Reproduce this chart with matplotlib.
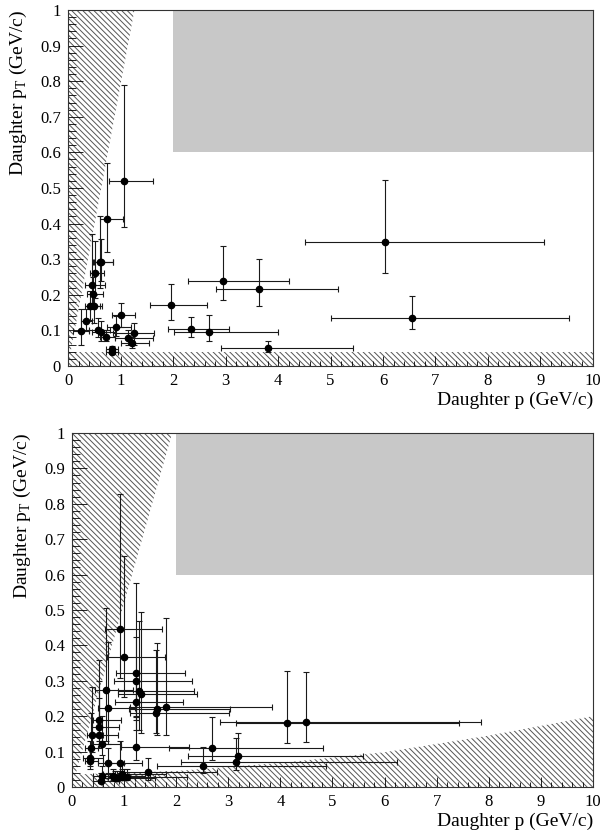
import matplotlib

matplotlib.use("Agg")
import matplotlib.pyplot as plt
import numpy as np
from matplotlib.ticker import MultipleLocator

plt.rcParams["font.family"] = ["Liberation Serif", "DejaVu Serif"]
plt.rcParams["mathtext.fontset"] = "custom"
plt.rcParams["mathtext.rm"] = "Liberation Serif"
plt.rcParams["hatch.linewidth"] = 0.7

# ---- top panel: daughter p / pT with asymmetric errors
top_p = [1.07, 0.743, 0.60, 0.635, 0.52, 0.45, 0.476, 0.425, 0.49, 0.254, 0.337,
         0.571, 0.635, 0.717, 0.91, 1.0, 1.14, 1.21, 1.25, 0.83, 0.83,
         1.97, 2.95, 3.63, 2.35, 2.68, 3.8, 6.04, 6.56]
top_pt = [0.52, 0.412, 0.292, 0.292, 0.262, 0.228, 0.201, 0.169, 0.168, 0.099, 0.125,
          0.101, 0.095, 0.082, 0.109, 0.142, 0.078, 0.065, 0.092, 0.048, 0.040,
          0.17, 0.239, 0.215, 0.105, 0.096, 0.05, 0.348, 0.135]
top_p_lo = [0.79, 0.60, 0.48, 0.50, 0.42, 0.33, 0.36, 0.33, 0.40, 0.10, 0.25,
            0.40, 0.45, 0.60, 0.75, 0.83, 0.90, 1.00, 0.85, 0.72, 0.72,
            1.57, 2.28, 2.81, 1.90, 2.02, 2.91, 4.51, 5.00]
top_p_hi = [1.62, 1.04, 0.86, 0.86, 0.68, 0.70, 0.66, 0.60, 0.65, 0.40, 0.45,
            0.80, 0.90, 0.90, 1.20, 1.27, 1.62, 1.55, 1.63, 0.95, 0.95,
            2.64, 4.20, 5.15, 3.06, 4.00, 5.43, 9.07, 9.54]
top_pt_lo = [0.39, 0.32, 0.22, 0.24, 0.19, 0.17, 0.16, 0.13, 0.12, 0.06, 0.10,
             0.08, 0.07, 0.07, 0.085, 0.11, 0.06, 0.05, 0.06, 0.04, 0.035,
             0.13, 0.184, 0.168, 0.082, 0.071, 0.04, 0.26, 0.103]
top_pt_hi = [0.79, 0.57, 0.42, 0.356, 0.35, 0.37, 0.25, 0.21, 0.20, 0.16, 0.16,
             0.135, 0.125, 0.10, 0.14, 0.178, 0.10, 0.08, 0.12, 0.056, 0.05,
             0.23, 0.338, 0.30, 0.138, 0.142, 0.07, 0.522, 0.197]

# ---- bottom panel
bot_p = [0.93, 1.0, 1.22, 1.22, 1.32, 1.28, 1.22, 1.64, 1.62, 1.80, 0.647,
         0.685, 0.525, 0.525, 0.52, 0.377, 0.58, 0.358, 0.345, 0.35, 0.70,
         0.92, 1.23, 1.45, 0.58, 0.55, 0.78, 0.825, 0.86, 0.954, 0.954,
         1.05, 2.69, 2.52, 3.15, 3.19, 4.12, 4.49]
bot_pt = [0.447, 0.366, 0.323, 0.30, 0.263, 0.27, 0.241, 0.219, 0.21, 0.225, 0.274,
          0.222, 0.189, 0.17, 0.147, 0.147, 0.121, 0.109, 0.081, 0.074, 0.067,
          0.067, 0.112, 0.043, 0.031, 0.018, 0.031, 0.026, 0.025, 0.037, 0.027,
          0.029, 0.109, 0.059, 0.07, 0.088, 0.18, 0.184]
bot_p_lo = [0.63, 0.67, 0.84, 0.81, 0.89, 0.88, 0.83, 1.10, 1.12, 1.12, 0.44,
            0.50, 0.40, 0.38, 0.36, 0.28, 0.40, 0.25, 0.22, 0.24, 0.50,
            0.60, 0.95, 1.00, 0.40, 0.40, 0.55, 0.60, 0.60, 0.60, 0.70,
            0.75, 1.87, 1.63, 2.09, 2.22, 3.14, 2.84]
bot_p_hi = [1.73, 1.79, 2.17, 2.31, 2.39, 2.35, 2.14, 3.03, 3.01, 3.83, 1.18,
            1.20, 0.95, 0.90, 0.88, 0.60, 0.95, 0.50, 0.60, 0.50, 1.00,
            1.35, 2.25, 2.78, 1.00, 0.90, 1.40, 1.20, 1.60, 1.80, 1.50,
            2.20, 4.82, 4.87, 6.23, 5.58, 7.43, 7.85]
bot_pt_lo = [0.307, 0.255, 0.20, 0.19, 0.152, 0.16, 0.16, 0.147, 0.152, 0.147, 0.13,
             0.12, 0.14, 0.13, 0.11, 0.10, 0.09, 0.08, 0.06, 0.05, 0.04,
             0.04, 0.076, 0.02, 0.015, 0.01, 0.02, 0.018, 0.018, 0.02, 0.02,
             0.02, 0.076, 0.04, 0.048, 0.06, 0.123, 0.128]
bot_pt_hi = [0.827, 0.653, 0.575, 0.425, 0.493, 0.47, 0.32, 0.406, 0.387, 0.476, 0.505,
             0.41, 0.36, 0.30, 0.25, 0.283, 0.20, 0.21, 0.13, 0.11, 0.11,
             0.13, 0.199, 0.082, 0.06, 0.04, 0.05, 0.045, 0.045, 0.065, 0.05,
             0.05, 0.197, 0.114, 0.139, 0.152, 0.328, 0.325]

# excluded (hatched) regions and accepted box
top_cone_slope = 0.79
top_floor = 0.04
bot_cone_slope = 0.52
bot_floor_p = [0, 2, 4, 6, 8, 10]
bot_floor_pt = [0.035, 0.045, 0.068, 0.098, 0.145, 0.2]
box_p = (2.0, 10.0)
box_pt = (0.6, 1.0)

HATCH_COLOR = "#555555"
HATCH = "\\" * 6


def _draw_panel(ax, p, pt, p_lo, p_hi, pt_lo, pt_hi, cone_slope, floor_p, floor_pt):
    ax.fill_between([box_p[0], box_p[1]], box_pt[0], box_pt[1], color="#c8c8c8", lw=0, zorder=0)
    ax.fill([0, 1.0 / cone_slope, 0], [0, 1, 1], facecolor="none", edgecolor=HATCH_COLOR,
            hatch=HATCH, lw=0, zorder=1)
    ax.fill_between(floor_p, 0, floor_pt, facecolor="none", edgecolor=HATCH_COLOR,
                    hatch=HATCH, lw=0, zorder=1)

    p = np.asarray(p)
    pt = np.asarray(pt)
    xerr = [p - np.asarray(p_lo), np.asarray(p_hi) - p]
    yerr = [pt - np.asarray(pt_lo), np.asarray(pt_hi) - pt]
    ax.errorbar(p, pt, xerr=xerr, yerr=yerr, fmt="o", color="black", ecolor="#1a1a1a",
                ms=4.5, elinewidth=0.8, capsize=2, capthick=0.8, zorder=3)

    ax.set_xlim(0, 10)
    ax.set_ylim(0, 1)
    ax.xaxis.set_major_locator(MultipleLocator(1))
    ax.xaxis.set_minor_locator(MultipleLocator(0.2))
    ax.yaxis.set_major_locator(MultipleLocator(0.1))
    ax.yaxis.set_minor_locator(MultipleLocator(0.02))
    ax.set_xticks(np.arange(0, 11, 1))
    ax.set_xticklabels([f"{v:g}" for v in range(11)])
    ax.set_yticks(np.round(np.arange(0, 1.01, 0.1), 1))
    ax.set_yticklabels(["0"] + [f"{v:.1f}" for v in np.arange(0.1, 0.95, 0.1)] + ["1"])
    ax.tick_params(axis="x", which="major", direction="in", length=7.5, width=0.6,
                   labelsize=12, pad=5, top=False)
    ax.tick_params(axis="x", which="minor", direction="in", length=3.8, width=0.6, top=False)
    ax.tick_params(axis="y", which="major", direction="in", length=11, width=0.6,
                   labelsize=12, pad=5, right=False)
    ax.tick_params(axis="y", which="minor", direction="in", length=5.5, width=0.6, right=False)
    for side in ax.spines.values():
        side.set_linewidth(0.8)
        side.set_color("#333333")
    ax.set_xlabel("Daughter p (GeV/c)", fontsize=14, loc="right", labelpad=2)
    ax.set_ylabel(r"Daughter p$_\mathrm{T}$ (GeV/c)", fontsize=14, loc="top", labelpad=8)


fig = plt.figure(figsize=(6.03, 8.31), dpi=100)
ax_top = fig.add_axes([0.1128, 0.5596, 0.8706, 0.4284])
ax_bot = fig.add_axes([0.1194, 0.0530, 0.8640, 0.4260])

_draw_panel(ax_top, top_p, top_pt, top_p_lo, top_p_hi, top_pt_lo, top_pt_hi,
            top_cone_slope, [0, 10], [top_floor, top_floor])
_draw_panel(ax_bot, bot_p, bot_pt, bot_p_lo, bot_p_hi, bot_pt_lo, bot_pt_hi,
            bot_cone_slope, bot_floor_p, bot_floor_pt)

fig.savefig("out.png", dpi=100)
plt.close(fig)
